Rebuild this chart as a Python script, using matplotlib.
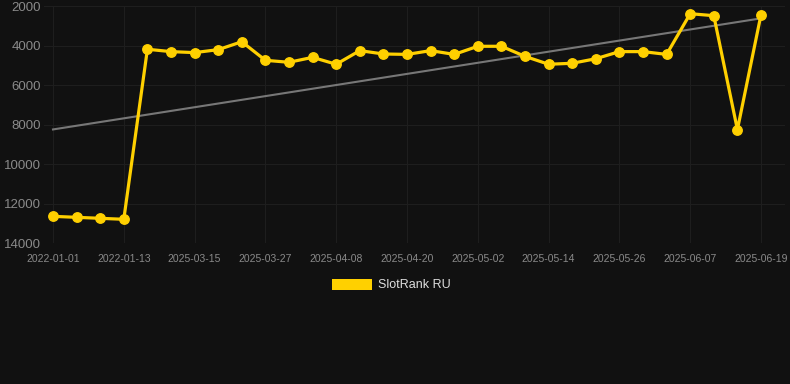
import numpy as np
import matplotlib
matplotlib.use("Agg")
import matplotlib.pyplot as plt
from matplotlib.patches import Rectangle

plt.rcParams['font.family'] = ['Liberation Sans', 'DejaVu Sans']

dates = [
    "2022-01-01", "2022-01-05", "2022-01-09", "2022-01-13", "2025-03-07", "2025-03-11",
    "2025-03-15", "2025-03-19", "2025-03-23", "2025-03-27", "2025-03-31", "2025-04-04",
    "2025-04-08", "2025-04-12", "2025-04-16", "2025-04-20", "2025-04-24", "2025-04-28",
    "2025-05-02", "2025-05-06", "2025-05-10", "2025-05-14", "2025-05-18", "2025-05-22",
    "2025-05-26", "2025-05-30", "2025-06-03", "2025-06-07", "2025-06-11", "2025-06-15",
    "2025-06-19",
]
rank = [
    12650, 12700, 12750, 12800, 4190, 4310, 4360, 4210, 3810, 4750, 4850, 4600,
    4950, 4260, 4430, 4450, 4260, 4450, 4040, 4040, 4550, 4950, 4900, 4670,
    4310, 4310, 4450, 2390, 2490, 8260, 2440,
]
series_label = "SlotRank RU"
y_ticks = [2000, 4000, 6000, 8000, 10000, 12000, 14000]

BG = "#111111"
GOLD = "#FFD000"

W, H = 790, 384
fig = plt.figure(figsize=(W / 100, H / 100), dpi=100, facecolor=BG)
left, right, top, bottom = 44, 785, 6, 243
ax = fig.add_axes([left / W, 1 - bottom / H, (right - left) / W, (bottom - top) / H])
ax.set_facecolor(BG)

x = np.arange(len(dates))
# trend line (least squares fit)
coef = np.polyfit(x, rank, 1)
ax.plot([x[0], x[-1]], np.polyval(coef, [x[0], x[-1]]), color="#777777", lw=1.5, zorder=2)

ax.plot(x, rank, color=GOLD, lw=2.3, marker="o", ms=6.8, markerfacecolor=GOLD,
        markeredgecolor=GOLD, zorder=3)

px_per = (761 - 53) / (len(dates) - 1)
ax.set_xlim(-(53 - left) / px_per, (len(dates) - 1) + (right - 761) / px_per)
ax.set_ylim(14000, 2000)

ax.set_yticks(y_ticks)
ax.set_yticklabels([str(v) for v in y_ticks])
tick_idx = list(range(0, len(dates), 3))
ax.set_xticks(tick_idx)
ax.set_xticklabels([dates[i] for i in tick_idx])

ax.grid(True, color="#1e1e1e", lw=0.8)
ax.set_axisbelow(True)
for s in ax.spines.values():
    s.set_visible(False)
ax.tick_params(axis="both", length=0, colors="#8a8a8a")
ax.tick_params(axis="y", labelsize=9.5, pad=2)
ax.tick_params(axis="x", labelsize=7.5, pad=8)

# legend
fig.patches.append(Rectangle((332 / W, 1 - 290 / H), 40 / W, 11 / H, transform=fig.transFigure,
                             facecolor=GOLD, edgecolor="none"))
fig.text(378 / W, 1 - 285 / H, series_label, color="#dddddd", fontsize=9, va="center", ha="left")

fig.savefig("out.png", dpi=100, facecolor=BG)
